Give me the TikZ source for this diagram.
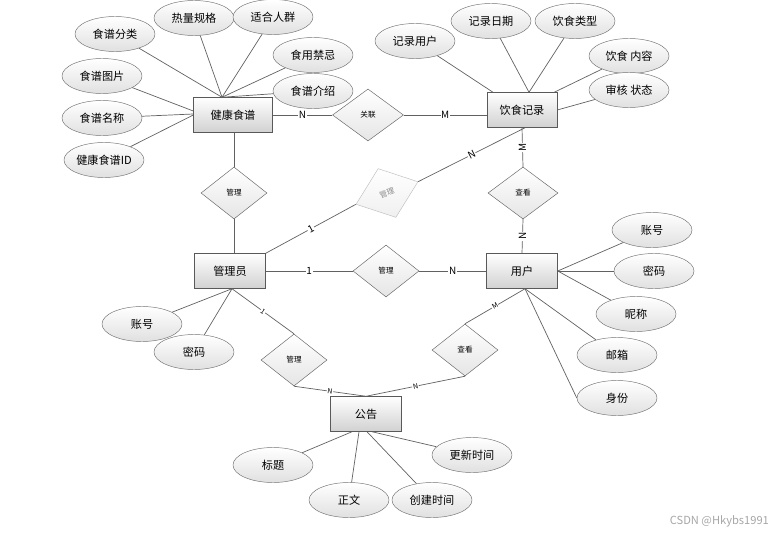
\documentclass[tikz,border=0pt]{standalone}
\usepackage{fontspec}
\setmainfont{Noto Sans CJK SC}
\usetikzlibrary{positioning,calc,shapes.geometric,shadows}
\tikzset{
  entity/.style={draw=black!65,top color=white,bottom color=black!18,minimum width=2.13cm,
    minimum height=1.05cm,inner sep=1pt,font=\fontsize{9.5}{11}\selectfont,
    drop shadow={shadow xshift=0.6pt,shadow yshift=-0.6pt,opacity=0.35}},
  attr/.style={ellipse,draw=black!55,top color=white,bottom color=black!12,minimum width=2.4cm,
    minimum height=1.05cm,inner sep=0pt,font=\fontsize{9.5}{11}\selectfont},
  relbox/.style={diamond,draw=black!60,top color=white,bottom color=black!10,minimum width=1.98cm,
    minimum height=1.56cm,inner sep=0pt,font=\fontsize{6.5}{8}\selectfont},
  fadebox/.style={relbox,draw=black!25,bottom color=black!6,text=black!45},
  link/.style={draw=black!62,line width=0.6pt},
  card/.style={font=\fontsize{8.5}{9}\selectfont,fill=white,inner sep=0.6pt},
  smallcard/.style={card,font=\fontsize{6}{7}\selectfont}
}
\begin{document}
\begin{tikzpicture}[x=0.03cm,y=-0.03cm]
  \useasboundingbox (0,0) rectangle (784,535);
  % entities
  \node[entity,minimum width=2.37cm] (recipe) at (233,115) {健康食谱};
  \node[entity,minimum width=2.1cm] (diet) at (522,110) {饮食记录};
  \node[entity] (admin) at (230,271) {管理员};
  \node[entity] (user) at (522,271) {用户};
  \node[entity] (notice) at (366,414) {公告};
  % relationships
  \node[relbox,minimum width=2.13cm] (link1) at (368,115) {关联};
  \node[relbox] (manage1) at (234,193) {管理};
  \node[relbox,minimum width=2.1cm] (view1) at (523,193) {查看};
  \node[relbox] (manage2) at (386,271) {管理};
  \node[fadebox,rotate=20] (manage0) at (387,193) {管理};
  \node[relbox] (manage3) at (294,360) {管理};
  \node[relbox] (view2) at (465,350) {查看};
  % recipe attributes
  \node[attr] (kind) at (115,34) {食谱分类};
  \node[attr] (heat) at (194,18) {热量规格};
  \node[attr] (crowd) at (273,17) {适合人群};
  \node[attr] (taboo) at (313,55) {食用禁忌};
  \node[attr] (intro) at (313,91) {食谱介绍};
  \node[attr] (pic) at (102,76) {食谱图片};
  \node[attr] (rname) at (102,118) {食谱名称};
  \node[attr] (rid) at (104,160) {健康食谱ID};
  % diet attributes
  \node[attr] (duser) at (415,41) {记录用户};
  \node[attr] (ddate) at (491,21) {记录日期};
  \node[attr] (dtype) at (575,21) {饮食类型};
  \node[attr] (dtext) at (629,56) {饮食 内容};
  \node[attr] (dstate) at (629,90) {审核 状态};
  % user attributes
  \node[attr] (uacc) at (652,230) {账号};
  \node[attr] (upwd) at (654,271) {密码};
  \node[attr] (unick) at (636,314) {昵称};
  \node[attr] (umail) at (617,355) {邮箱};
  \node[attr] (urole) at (617,398) {身份};
  % admin attributes
  \node[attr] (aacc) at (142,324) {账号};
  \node[attr] (apwd) at (194,352) {密码};
  % notice attributes
  \node[attr] (ntitle) at (273,465) {标题};
  \node[attr] (nbody) at (349,500) {正文};
  \node[attr] (nmade) at (432,500) {创建时间};
  \node[attr] (nupd) at (472,455) {更新时间};
  \node[font=\fontsize{9.5}{11}\selectfont,text=black!35,anchor=east] (mark) at (773,521) {CSDN @Hkybs1991};

  % anchor points on the boxes
  \coordinate (rtop) at ($(recipe.north)+(-11,0)$);
  \coordinate (rleft) at ($(recipe.west)+(0,-4)$);
  \coordinate (dtop1) at ($(diet.north)+(-29,0)$);
  \coordinate (dtop2) at ($(diet.north)+(7,0)$);
  \coordinate (dtop3) at ($(diet.north east)+(-3,0)$);
  \coordinate (dbot) at ($(diet.south)+(3,0)$);
  \coordinate (ubot) at ($(user.south)+(3,0)$);
  \coordinate (abot) at ($(admin.south)+(2,0)$);

  % relationship lines
  \draw[link] (recipe.east) -- node[card]{N} (link1.west);
  \draw[link] (link1.east) -- node[card]{M} (link1.east -| diet.west);
  \draw[link] (diet.south) -- node[card,rotate=90]{M} (view1.north);
  \draw[link] (view1.south) -- node[card,rotate=90]{N} (user.north);
  \draw[link] (dbot) -- node[card,sloped]{N} (manage0.east);
  \draw[link] (manage0.west) -- node[card,sloped]{1} (admin.north east);
  \draw[link] (recipe.south -| manage1.north) -- (manage1.north);
  \draw[link] (manage1.south) -- (manage1.south |- admin.north);
  \draw[link] (admin.east) -- node[card]{1} (manage2.west);
  \draw[link] (manage2.east) -- node[card]{N} (user.west);
  \draw[link] (abot) -- node[smallcard,sloped]{1} (manage3.north);
  \draw[link] (manage3.south) -- node[smallcard,sloped]{N} (notice.north);
  \draw[link] (notice.north) -- node[smallcard,sloped]{N} (view2.south);
  \draw[link] (view2.north) -- node[smallcard,sloped]{M} (ubot);

  % attribute lines
  \foreach \a in {kind,heat,crowd,taboo,intro}
    \draw[link] (\a) -- (rtop);
  \draw[link] (pic) -- (rleft);
  \draw[link] (rname) -- ($(recipe.west)+(0,-1)$);
  \draw[link] (rid) -- (recipe.west);
  \draw[link] (duser) -- (dtop1);
  \draw[link] (ddate) -- (dtop2);
  \draw[link] (dtype) -- (dtop2);
  \draw[link] (dtext) -- (dtop3);
  \draw[link] (dstate) -- (diet.east);
  \foreach \a in {uacc,upwd,unick}
    \draw[link] (\a) -- (user.east);
  \draw[link] (umail) -- (ubot);
  \draw[link] (urole.west) -- (ubot);
  \foreach \a in {aacc,apwd}
    \draw[link] (\a) -- (abot);
  \draw[link] (ntitle) -- ($(notice.south)+(-14,0)$);
  \draw[link] (nbody) -- ($(notice.south)+(-7,0)$);
  \draw[link] (nmade) -- ($(notice.south)+(1,0)$);
  \draw[link] (nupd) -- ($(notice.south)+(6,0)$);
\end{tikzpicture}
\end{document}
